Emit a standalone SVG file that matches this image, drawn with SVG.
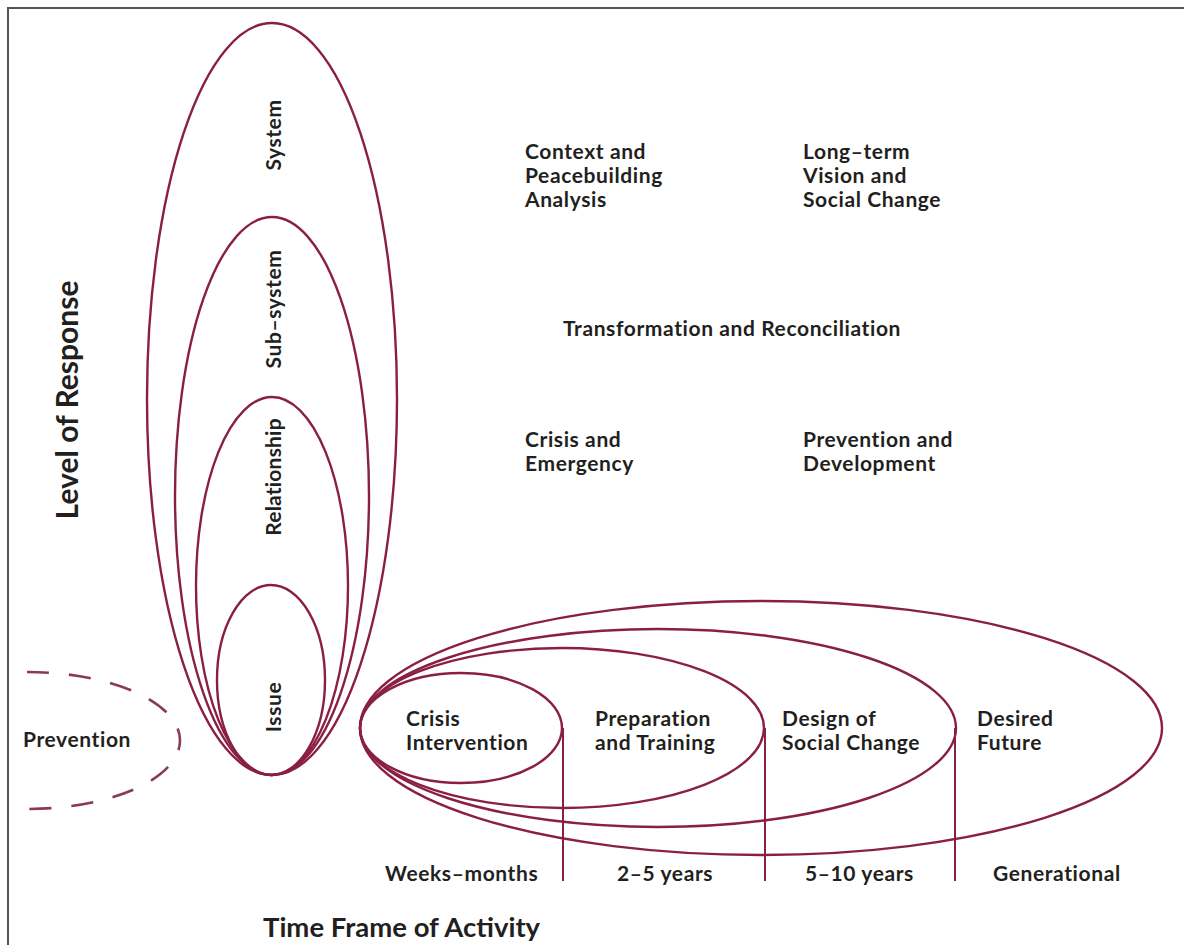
<svg xmlns="http://www.w3.org/2000/svg" width="1184" height="945" viewBox="0 0 1184 945">
<style>
.ring{fill:none;stroke:#8a1f45;stroke-width:2.4}
.dash{fill:none;stroke:#8a3a58;stroke-width:2.6;stroke-dasharray:22 20}
.div{stroke:#8a1f45;stroke-width:2}
.t{font-family:Lato,"Liberation Sans",sans-serif;font-weight:700;font-size:21px;letter-spacing:0.6px;fill:#231f20}
.big{font-family:Lato,"Liberation Sans",sans-serif;font-weight:700;font-size:30px;fill:#231f20}
.v{text-anchor:middle}
</style>
<rect width="1184" height="945" fill="#fff"/>
<path d="M8 945 V8 H1184" fill="none" stroke="#555" stroke-width="2"/>
<g id="level-of-response"><text class="big v" transform="translate(78,400) rotate(-90)">Level of Response</text></g>
<g id="time-frame"><text class="big" x="263" y="937" style="font-size:27.5px">Time Frame of Activity</text></g>
<g id="system"><ellipse class="ring" cx="272" cy="399" rx="125" ry="376"/><text class="t v" transform="translate(281,135) rotate(-90)">System</text></g>
<g id="sub-system"><ellipse class="ring" cx="272" cy="496" rx="97" ry="279"/><text class="t v" transform="translate(281,309) rotate(-90)">Sub–system</text></g>
<g id="relationship"><ellipse class="ring" cx="272" cy="586" rx="76" ry="189"/><text class="t v" transform="translate(281,477) rotate(-90)" style="letter-spacing:0.2px">Relationship</text></g>
<g id="issue"><ellipse class="ring" cx="271" cy="680" rx="54" ry="95"/><text class="t v" transform="translate(281,707) rotate(-90)">Issue</text></g>
<g id="prevention"><path class="dash" d="M27 672 A153 68.5 0 0 1 27 809"/><text class="t" x="23" y="747">Prevention</text></g>
<g id="desired-future"><ellipse class="ring" cx="761" cy="728" rx="401" ry="127"/><text class="t" x="977" y="726">Desired</text><text class="t" x="977" y="750">Future</text></g>
<g id="design-social-change"><ellipse class="ring" cx="658" cy="728" rx="298" ry="99"/><text class="t" x="782" y="726">Design of</text><text class="t" x="782" y="750">Social Change</text></g>
<g id="preparation-training"><ellipse class="ring" cx="562" cy="728" rx="202" ry="80"/><text class="t" x="595" y="726">Preparation</text><text class="t" x="595" y="750">and Training</text></g>
<g id="crisis-intervention"><ellipse class="ring" cx="461" cy="728" rx="101" ry="55"/><text class="t" x="406" y="726">Crisis</text><text class="t" x="406" y="750">Intervention</text></g>
<g id="connectors">
<line class="div" x1="563" y1="728" x2="563" y2="881"/>
<line class="div" x1="765" y1="728" x2="765" y2="881"/>
<line class="div" x1="955" y1="728" x2="955" y2="881"/>
</g>
<g id="time-labels">
<text class="t" x="385" y="881">Weeks–months</text>
<text class="t" x="617" y="881">2–5 years</text>
<text class="t" x="805" y="881">5–10 years</text>
<text class="t" x="993" y="881">Generational</text>
</g>
<g id="context-analysis"><text class="t" x="525" y="159">Context and</text><text class="t" x="525" y="183">Peacebuilding</text><text class="t" x="525" y="207">Analysis</text></g>
<g id="long-term-vision"><text class="t" x="803" y="159">Long–term</text><text class="t" x="803" y="183">Vision and</text><text class="t" x="803" y="207">Social Change</text></g>
<g id="transformation"><text class="t" x="563" y="336">Transformation and Reconciliation</text></g>
<g id="crisis-emergency"><text class="t" x="525" y="447">Crisis and</text><text class="t" x="525" y="471">Emergency</text></g>
<g id="prevention-development"><text class="t" x="803" y="447">Prevention and</text><text class="t" x="803" y="471">Development</text></g>
</svg>
